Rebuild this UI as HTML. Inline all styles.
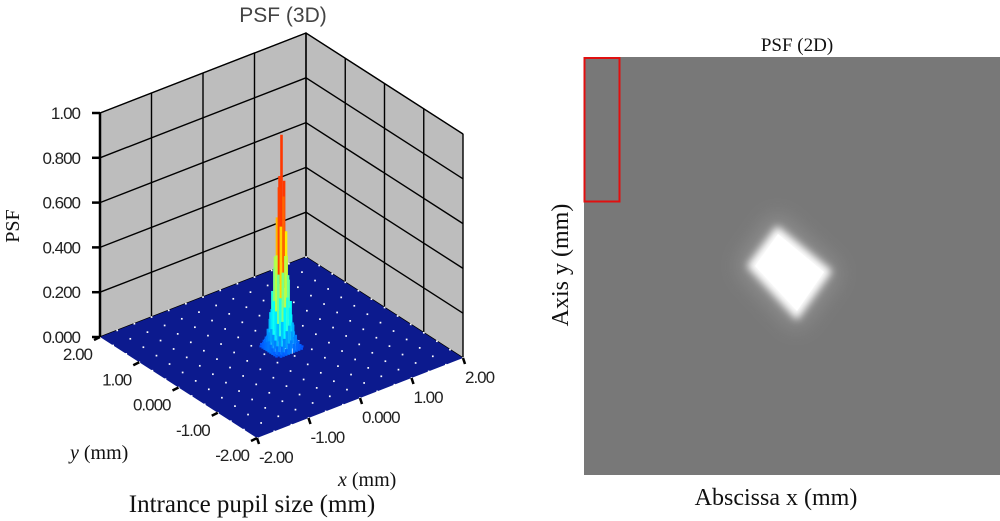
<!DOCTYPE html>
<html><head><meta charset="utf-8">
<style>
html,body{margin:0;padding:0;background:#fff;width:1000px;height:521px;overflow:hidden}
svg{display:block}
.tk{font-family:"Liberation Sans",sans-serif;font-size:17px;fill:#222;letter-spacing:-1px}
.sf{font-family:"Liberation Serif",serif;fill:#111}
</style></head><body>
<svg id="chart" width="1000" height="521" viewBox="0 0 1000 521">
<defs>
<filter id="blur" x="-50%" y="-50%" width="200%" height="200%"><feGaussianBlur stdDeviation="4"/></filter>
<filter id="blur2" x="-50%" y="-50%" width="200%" height="200%"><feGaussianBlur stdDeviation="12"/></filter>
</defs>
<g id="p3d"></g>
<text x="283" y="22" text-anchor="middle" font-family="Liberation Sans,sans-serif" font-size="21" fill="#444">PSF (3D)</text>
<text transform="translate(19,226) rotate(-90)" text-anchor="middle" class="sf" font-size="20">PSF</text>
<text x="70" y="459" class="sf" font-size="20"><tspan font-style="italic">y</tspan> (mm)</text>
<text x="338" y="486" class="sf" font-size="20"><tspan font-style="italic">x</tspan> (mm)</text>
<text x="252" y="512" text-anchor="middle" class="sf" font-size="25">Intrance pupil size (mm)</text>

<g>
<text x="797" y="51" text-anchor="middle" class="sf" font-size="19">PSF (2D)</text>
<rect x="584" y="57" width="416" height="418" fill="#787878"/>
<polygon points="776,214 738,267 797,330 840,272" fill="#aaa" opacity="0.6" filter="url(#blur2)"/>
<polygon points="777,226 747,266 797,320 832,271" fill="#fff" filter="url(#blur)"/>
<polygon points="778,234 755,266 797,311 824,272" fill="#fff"/>
<rect x="584.5" y="58" width="35" height="143.5" fill="none" stroke="#e01010" stroke-width="2"/>
<text transform="translate(568,265) rotate(-90)" text-anchor="middle" class="sf" font-size="24">Axis y (mm)</text>
<text x="776" y="505" text-anchor="middle" class="sf" font-size="24">Abscissa x (mm)</text>
</g>
</svg>
<script>
const zTicks=[0,0.2,0.4,0.6,0.8,1.0];
const zTickLabels=["0.000","0.200","0.400","0.600","0.800","1.00"];
const xTicks=[-2,-1,0,1,2];
const xTickLabels=["-2.00","-1.00","0.000","1.00","2.00"];
const yTicks=[2,1,0,-1,-2];
const yTickLabels=["2.00","1.00","0.000","-1.00","-2.00"];
const gridCoords=[-0.25,-0.2,-0.15,-0.1,-0.05,0,0.05,0.1,0.15,0.2,0.25];
// psf[yi][xi]
const psf=[
[0.00,0.01,0.02,0.03,0.05,0.06,0.04,0.03,0.02,0.01,0.00],
[0.01,0.02,0.04,0.07,0.10,0.12,0.09,0.06,0.03,0.02,0.01],
[0.02,0.04,0.08,0.14,0.20,0.24,0.19,0.12,0.06,0.03,0.01],
[0.03,0.06,0.13,0.24,0.35,0.42,0.33,0.21,0.10,0.05,0.02],
[0.04,0.08,0.18,0.34,0.55,0.68,0.52,0.30,0.14,0.06,0.02],
[0.05,0.10,0.22,0.42,0.72,0.95,0.74,0.40,0.18,0.07,0.03],
[0.04,0.08,0.18,0.36,0.58,0.76,0.60,0.33,0.15,0.06,0.02],
[0.03,0.06,0.13,0.25,0.40,0.48,0.38,0.22,0.10,0.04,0.02],
[0.02,0.04,0.08,0.15,0.22,0.27,0.21,0.13,0.06,0.03,0.01],
[0.01,0.02,0.04,0.07,0.11,0.13,0.10,0.06,0.03,0.02,0.01],
[0.00,0.01,0.02,0.03,0.05,0.06,0.04,0.03,0.02,0.01,0.00]
];
const NS='http://www.w3.org/2000/svg';
const g=document.getElementById('p3d');
function mk(t,a,p){const e=document.createElementNS(NS,t);for(const k in a)e.setAttribute(k,a[k]);(p||g).appendChild(e);return e;}
const FX=257,FY=438,ZS=224;
function P(x,y,z){return [FX+(x+2)*51.5+(y+2)*-39.25,FY+(x+2)*-20+(y+2)*-25.25-z*ZS];}
function pts(a){return a.map(p=>p.join(',')).join(' ');}
let w=mk('polygon',{points:pts([P(-2,2,0),P(2,2,0),P(2,2,1),P(-2,2,1)]),fill:'#bdbdbd',stroke:'#000','stroke-width':1});


w=mk('polygon',{points:pts([P(2,2,0),P(2,-2,0),P(2,-2,1),P(2,2,1)]),fill:'#bdbdbd',stroke:'#000','stroke-width':1});


for(const z of zTicks){
 let a=P(-2,2,z),b=P(2,2,z),c=P(2,-2,z);
 mk('polyline',{points:pts([a,b,c]),fill:'none',stroke:'#000','stroke-width':1.4});
}
for(const t of xTicks){let a=P(t,2,0),b=P(t,2,1);mk('line',{x1:a[0],y1:a[1],x2:b[0],y2:b[1],stroke:'#000','stroke-width':1.4});}
for(const t of yTicks){let a=P(2,t,0),b=P(2,t,1);mk('line',{x1:a[0],y1:a[1],x2:b[0],y2:b[1],stroke:'#000','stroke-width':1.4});}
const fl=mk('polygon',{points:pts([P(-2,-2,0),P(2,-2,0),P(2,2,0),P(-2,2,0)]),fill:'#0c1a8e'});


for(let i=0;i<=12;i++)for(let j=0;j<=12;j++){
 const p=P(-2+i*4/12,-2+j*4/12,0);
 mk('rect',{x:p[0]-0.8,y:p[1]-0.8,width:1.7,height:1.7,fill:'#fff'});
}
let a0=P(-2,2,0),a1=P(-2,2,1);
const za=mk('line',{x1:a0[0],y1:a0[1],x2:a1[0],y2:a1[1],stroke:'#000','stroke-width':2.5});


zTicks.forEach((z,i)=>{const p=P(-2,2,z);
 mk('line',{x1:p[0]-8,y1:p[1],x2:p[0],y2:p[1],stroke:'#000','stroke-width':2.5});
 const t=mk('text',{x:p[0]-20,y:p[1]+6,'text-anchor':'end',class:'tk'});t.textContent=zTickLabels[i];
 
 
});
xTicks.forEach((x,i)=>{const p=P(x,-2,0);
 mk('line',{x1:p[0],y1:p[1],x2:p[0]+2,y2:p[1]+6,stroke:'#000','stroke-width':2.5});
 const t=mk('text',{x:p[0]+2,y:p[1]+25,class:'tk'});t.textContent=xTickLabels[i];
 
 
});
yTicks.forEach((y,i)=>{const p=P(-2,y,0);
 mk('line',{x1:p[0],y1:p[1],x2:p[0]-6,y2:p[1]+3,stroke:'#000','stroke-width':2.5});
 const t=mk('text',{x:p[0]-8,y:p[1]+23,'text-anchor':'end',class:'tk'});t.textContent=yTickLabels[i];
 
 
});
function jet(v){
 const f=(x)=>Math.max(0,Math.min(1,x));
 const r=f(1.5-Math.abs(4*v-3)),gg=f(1.5-Math.abs(4*v-2)),b=f(1.5-Math.abs(4*v-1));
 return `rgb(${Math.round(r*255)},${Math.round(gg*255)},${Math.round(b*255)})`;
}
const surf=mk('g',{});


const order=[];
for(let yi=0;yi<gridCoords.length;yi++)for(let xi=0;xi<gridCoords.length;xi++)order.push([yi,xi]);
order.sort((A,B)=>( (gridCoords[B[0]]+gridCoords[B[1]]*0.3) - (gridCoords[A[0]]+gridCoords[A[1]]*0.3) ));
for(const [yi,xi] of order){
 const v=psf[yi][xi];
 const x=gridCoords[xi],y=gridCoords[yi];
 const b=P(x,y,0),t=P(x,y,v);
 const c=mk('line',{x1:b[0],y1:b[1],x2:t[0],y2:t[1],stroke:jet(Math.min(0.82,v*0.85+0.2)),'stroke-width':2.6},surf);
 
 
 if(v>0.05){mk('line',{x1:b[0]+1,y1:b[1],x2:b[0]+1,y2:b[1]-(b[1]-t[1])*0.4,stroke:'#fff','stroke-width':0.8,opacity:0.8},surf);}
}
</script>
</body></html>
